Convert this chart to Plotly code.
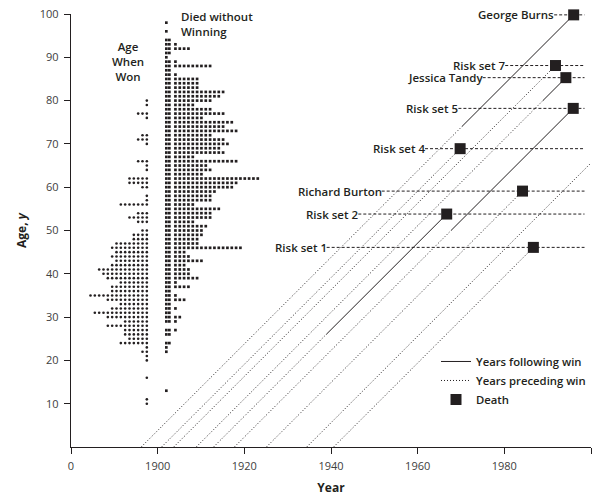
import plotly.graph_objects as go

# ---------------- data ----------------
# Left panel: ages of actors at winning (dots) and at death for those who died without winning (squares)
won_ages = [10, 11, 16, 20, 21, 22, 23, 24, 25, 26, 27, 28, 29, 30, 31, 32, 33, 34, 35, 36,
            37, 38, 39, 40, 41, 42, 43, 44, 45, 46, 47, 48, 49, 50, 52, 53, 54, 56, 57, 58,
            60, 61, 62, 64, 65, 66, 70, 71, 72, 76, 77, 79, 80]
won_counts = [1, 1, 1, 1, 1, 2, 1, 7, 5, 6, 6, 10, 6, 10, 13, 9, 7, 10, 14, 9,
              9, 7, 10, 11, 12, 9, 8, 9, 8, 9, 8, 4, 4, 2, 3, 5, 3, 7, 1, 1,
              2, 5, 5, 1, 1, 3, 1, 3, 2, 1, 3, 1, 1]

nowin_ages = [13, 22, 23, 24, 26, 27, 29, 30, 31, 32, 33, 34, 35, 36, 37, 38, 39, 40, 41, 42,
              43, 44, 45, 46, 47, 48, 49, 50, 51, 52, 53, 54, 55, 56, 57, 58, 59, 60, 61, 62,
              63, 64, 65, 66, 67, 68, 69, 70, 71, 72, 73, 74, 75, 76, 77, 78, 79, 80, 81, 82,
              83, 84, 85, 86, 87, 88, 89, 90, 91, 92, 93, 94, 96, 98]
nowin_counts = [1, 1, 1, 2, 2, 3, 3, 4, 2, 3, 2, 5, 3, 2, 6, 3, 8, 6, 6, 5,
                9, 6, 5, 18, 8, 8, 9, 9, 10, 7, 11, 11, 13, 7, 11, 11, 12, 16, 17, 22,
                9, 11, 10, 17, 7, 14, 13, 15, 14, 11, 17, 14, 16, 9, 14, 11, 7, 11, 13, 14,
                8, 8, 8, 3, 2, 11, 3, 1, 2, 6, 3, 2, 1, 1]

# Right panel: Lexis lines of nine individuals
labels = ["George Burns", "Risk set 7", "Jessica Tandy", "Risk set 5", "Risk set 4",
          "Richard Burton", "Risk set 2", "Risk set 1", ""]
birth_years = [1896.2, 1903.7, 1908.9, 1917.7, 1900.9, 1925.1, 1912.9, 1940.6, 1934.4]
win_ages = [74, None, 80, 50, None, None, 26, None, None]
death_ages = [99.8, 88.1, 85.3, 78.2, 68.9, 59.1, 53.8, 46.1, None]

x_tick_vals = [1880, 1900, 1920, 1940, 1960, 1980, 2000]
x_tick_text = ["0", "1900", "1920", "1940", "1960", "1980", "2000"]
y_tick_vals = [10, 20, 30, 40, 50, 60, 70, 80, 90, 100]

# ---------------- layout helpers (positions, not data) ----------------
label_end_years = [1991.5, 1980.2, 1975.0, 1969.4, 1961.7, 1951.7, 1946.3, 1939.0]
dash_end_year = 1998.5
won_right_col = 1897.5
nowin_first_col = 1902.0
INK = "#231f20"
FONT = "Open Sans"

fig = go.Figure()

# dot plot: age when won (stacked leftwards)
wx, wy = [], []
for a, c in zip(won_ages, won_counts):
    for k in range(c):
        wx.append(won_right_col - k)
        wy.append(a)
fig.add_trace(go.Scatter(x=wx, y=wy, mode="markers", showlegend=False, hoverinfo="skip",
                         marker=dict(symbol="circle", size=2.6, color=INK, line_width=0)))

# squares: died without winning (stacked rightwards)
nx, ny = [], []
for a, c in zip(nowin_ages, nowin_counts):
    for k in range(c):
        if k == 0:
            xx = nowin_first_col
        elif k == 1:
            xx = nowin_first_col + 0.7
        else:
            xx = nowin_first_col + 2.1 + (k - 2) * 1.0
        nx.append(xx)
        ny.append(a)
fig.add_trace(go.Scatter(x=nx, y=ny, mode="markers", showlegend=False, hoverinfo="skip",
                         marker=dict(symbol="square", size=2.7, color=INK, line_width=0)))

# horizontal dashed risk-set lines
hx, hy = [], []
for lab, le, d in zip(labels, label_end_years, death_ages):
    hx += [le, dash_end_year, None]
    hy += [d, d, None]
fig.add_trace(go.Scatter(x=hx, y=hy, mode="lines", showlegend=False, hoverinfo="skip",
                         line=dict(color=INK, width=1, dash="3px,2px")))

# Lexis lines
sx, sy, dx, dy = [], [], [], []
for b, w, d in zip(birth_years, win_ages, death_ages):
    end_age = d if d is not None else (2000 - b)
    if w is None:
        dx += [b, b + end_age, None]
        dy += [0, end_age, None]
    else:
        dx += [b, b + w, None]
        dy += [0, w, None]
        sx += [b + w, b + end_age, None]
        sy += [w, end_age, None]

fig.add_trace(go.Scatter(x=sx, y=sy, mode="lines", name="Years following win",
                         line=dict(color=INK, width=1), hoverinfo="skip"))
fig.add_trace(go.Scatter(x=dx, y=dy, mode="lines", name="Years preceding win",
                         line=dict(color=INK, width=1, dash="1px,2px"), hoverinfo="skip"))

# deaths
ddx = [b + d for b, d in zip(birth_years, death_ages) if d is not None]
ddy = [d for d in death_ages if d is not None]
fig.add_trace(go.Scatter(x=ddx, y=ddy, mode="markers", name="Death", cliponaxis=False,
                         marker=dict(symbol="square", size=11, color=INK, line_width=0),
                         hoverinfo="skip"))

# labels
for lab, le, d in zip(labels, label_end_years, death_ages):
    fig.add_annotation(x=le, y=d, text=lab, showarrow=False, xanchor="right", yanchor="middle",
                       xshift=2, font=dict(family=FONT, size=11.5, color=INK, weight=600))

fig.add_annotation(x=1893.2, y=89, text="Age<br>When<br>Won", showarrow=False, align="center",
                   font=dict(family=FONT, size=11.5, color=INK, weight=600))
fig.add_annotation(x=1905.0, y=97.6, text="Died without<br>Winning", showarrow=False, align="left",
                   xanchor="left", font=dict(family=FONT, size=11.5, color=INK, weight=600))

fig.update_layout(
    width=599, height=496,
    margin=dict(l=71, r=8, t=14, b=49),
    plot_bgcolor="white", paper_bgcolor="white",
    font=dict(family=FONT, size=11, color="#404040"),
    legend=dict(x=1.0, y=0.231, xanchor="right", yanchor="top", bgcolor="rgba(0,0,0,0)",
                font=dict(family=FONT, size=11.3, color=INK, weight=600),
                itemwidth=30, tracegroupgap=0),
    xaxis=dict(range=[1880, 2000], tickvals=x_tick_vals, ticktext=x_tick_text, automargin=False,
               showgrid=False, zeroline=False, showline=True, linecolor=INK, linewidth=1.3,
               ticks="outside", ticklen=6, tickcolor=INK, ticklabelstandoff=3,
               title=dict(text="<b>Year</b>", font=dict(family=FONT, size=12, color=INK), standoff=16)),
    yaxis=dict(range=[0, 100], tickvals=y_tick_vals, automargin=False,
               showgrid=False, zeroline=False, showline=True, linecolor=INK, linewidth=1.3,
               ticks="outside", ticklen=6, tickcolor=INK, ticklabelstandoff=3,
               title=dict(text="<b>Age, <i>y</i></b>", font=dict(family=FONT, size=12, color=INK), standoff=10)),
)

fig.write_html("out.html")
